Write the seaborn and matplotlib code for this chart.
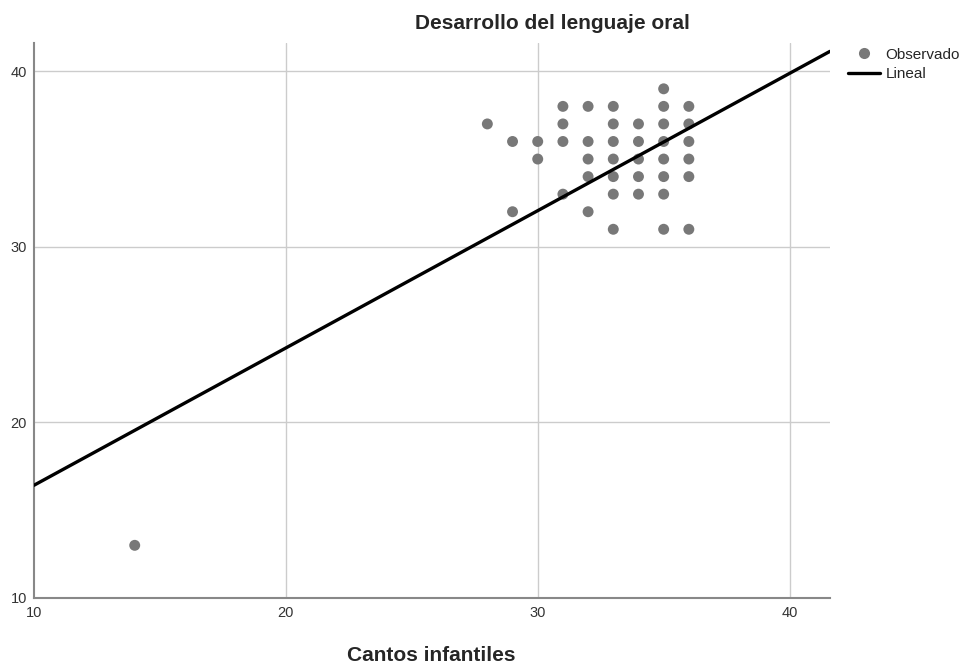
import numpy as np
import pandas as pd
import seaborn as sns
import matplotlib.pyplot as plt
from matplotlib.lines import Line2D

# observed points (Cantos infantiles, Desarrollo del lenguaje oral)
cantos = [14, 28, 29, 29, 30, 30,
          31, 31, 31, 31,
          32, 32, 32, 32, 32,
          33, 33, 33, 33, 33, 33, 33,
          34, 34, 34, 34, 34,
          35, 35, 35, 35, 35, 35, 35, 35,
          36, 36, 36, 36, 36, 36]
lenguaje = [13, 37, 36, 32, 36, 35,
            38, 37, 36, 33,
            38, 36, 35, 34, 32,
            38, 37, 36, 35, 34, 33, 31,
            37, 36, 35, 34, 33,
            39, 38, 37, 36, 35, 34, 33, 31,
            38, 37, 36, 35, 34, 31]

# linear fit
intercept = 8.60
slope = 0.782

x_ticks = [10, 20, 30, 40]
y_ticks = [10, 20, 30, 40]
x_lim = (10, 41.6)
y_lim = (10, 41.6)

df = pd.DataFrame({"cantos": cantos, "lenguaje": lenguaje})
fit = pd.DataFrame({"x": list(x_lim)})
fit["y"] = intercept + slope * fit["x"]

sns.set_style("white")
plt.rcParams['font.family'] = ['Liberation Sans', 'DejaVu Sans']

fig = plt.figure(figsize=(9.65, 6.64), dpi=100)
ax = fig.add_axes([0.0352, 0.0994, 0.8248, 0.8356])

grid_col = '#cccccc'
for v in x_ticks[1:]:
    ax.axvline(v, color=grid_col, lw=1, zorder=0)
for v in y_ticks[1:]:
    ax.axhline(v, color=grid_col, lw=1, zorder=0)

sns.scatterplot(data=df, x="cantos", y="lenguaje", ax=ax, color='#787878',
                s=62, edgecolor='none', zorder=3, legend=False)
sns.lineplot(data=fit, x="x", y="y", ax=ax, color='black', lw=2.4,
             zorder=4, legend=False)

ax.set_xlim(*x_lim)
ax.set_ylim(*y_lim)
ax.set_xticks(x_ticks)
ax.set_yticks(y_ticks)
ax.set_xlabel('')
ax.set_ylabel('')
ax.tick_params(length=0, labelsize=10.5, colors='#333333')
ax.tick_params(axis='x', pad=6)
ax.tick_params(axis='y', pad=5)

for side in ['top', 'right']:
    ax.spines[side].set_visible(False)
for side in ['left', 'bottom']:
    ax.spines[side].set_color('#888888')
    ax.spines[side].set_linewidth(1.5)

fig.text(0.572, 0.964, 'Desarrollo del lenguaje oral', ha='center',
         va='center', fontsize=15, fontweight='bold')
fig.text(0.447, 0.004, 'Cantos infantiles', ha='center', va='baseline',
         fontsize=15, fontweight='bold')

handles = [Line2D([], [], marker='o', ls='none', color='#787878',
                  markersize=8, markeredgecolor='none'),
           Line2D([], [], color='black', lw=2.4)]
leg = fig.legend(handles, ['Observado', 'Lineal'], loc='upper left',
                 bbox_to_anchor=(0.879, 0.928), frameon=False,
                 fontsize=11, handlelength=2.1, handletextpad=0.35,
                 labelspacing=0.35, borderaxespad=0, borderpad=0)

fig.savefig('out.png', dpi=100)
